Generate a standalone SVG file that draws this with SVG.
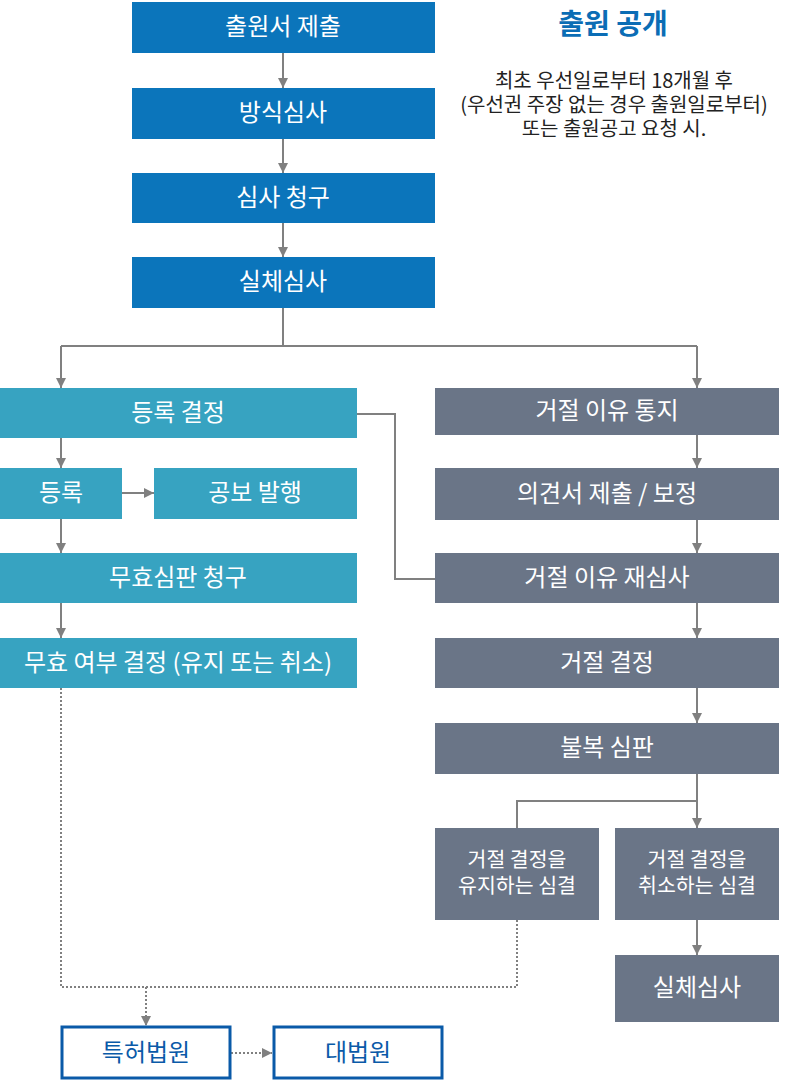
<svg xmlns="http://www.w3.org/2000/svg" width="788" height="1083" viewBox="0 0 788 1083">
<style>
.blue{fill:#0b75bb}
.teal{fill:#37a3c1}
.grey{fill:#6a7587}
.out{fill:#fff;stroke:#0a5aa8;stroke-width:3}
.t{font-family:"Noto Sans CJK KR","Noto Sans",sans-serif;font-size:24px;fill:#fff;text-anchor:middle;dominant-baseline:central}
.t2{font-family:"Noto Sans CJK KR","Noto Sans",sans-serif;font-size:20.5px;fill:#fff;text-anchor:middle}
.tb{font-family:"Noto Sans CJK KR","Noto Sans",sans-serif;font-size:24px;fill:#0a5aa8;text-anchor:middle;dominant-baseline:central}
.c{fill:none;stroke:#808080;stroke-width:2}
.d{fill:none;stroke:#808080;stroke-width:2;stroke-dasharray:2 2}
.note{font-family:"Noto Sans CJK KR","Noto Sans",sans-serif;font-size:20px;fill:#222;text-anchor:middle}
.title{font-family:"Noto Sans CJK KR","Noto Sans",sans-serif;font-size:28px;font-weight:bold;fill:#0b6db5;text-anchor:middle}
</style>
<defs>
<marker id="ah" viewBox="0 0 10 10" refX="10" refY="5" markerWidth="10" markerHeight="10" markerUnits="userSpaceOnUse" orient="auto">
<path d="M0,0 L10,5 L0,10 Z" fill="#808080"/>
</marker>
</defs>
<g id="connectors">
<path class="c" d="M283,53 V88" marker-end="url(#ah)"/>
<path class="c" d="M283,139 V173" marker-end="url(#ah)"/>
<path class="c" d="M283,223 V257" marker-end="url(#ah)"/>
<path class="c" d="M283,308 V346 M61,346 H697"/>
<path class="c" d="M61,346 V388" marker-end="url(#ah)"/>
<path class="c" d="M697,346 V388" marker-end="url(#ah)"/>
<path class="c" d="M61,438 V468" marker-end="url(#ah)"/>
<path class="c" d="M122,493 H154" marker-end="url(#ah)"/>
<path class="c" d="M61,519 V553" marker-end="url(#ah)"/>
<path class="c" d="M61,603 V638" marker-end="url(#ah)"/>
<path class="c" d="M357,414 H395 V579 H435"/>
<path class="c" d="M697,435 V468" marker-end="url(#ah)"/>
<path class="c" d="M697,520 V553" marker-end="url(#ah)"/>
<path class="c" d="M697,603 V638" marker-end="url(#ah)"/>
<path class="c" d="M697,688 V723" marker-end="url(#ah)"/>
<path class="c" d="M697,774 V828" marker-end="url(#ah)"/>
<path class="c" d="M517,828 V801 H697"/>
<path class="c" d="M697,920 V955" marker-end="url(#ah)"/>
<path class="d" d="M61,688 V987 H517 V920"/>
<path class="d" d="M146,987 V1026" marker-end="url(#ah)"/>
<path class="d" d="M231,1053 H272" marker-end="url(#ah)"/>
</g>
<g id="n1"><rect class="blue" x="132" y="2" width="303" height="51"/><text class="t" x="283" y="24">출원서 제출</text></g>
<g id="n2"><rect class="blue" x="132" y="88" width="303" height="51"/><text class="t" x="283" y="110">방식심사</text></g>
<g id="n3"><rect class="blue" x="132" y="173" width="303" height="50"/><text class="t" x="283" y="195">심사 청구</text></g>
<g id="n4"><rect class="blue" x="132" y="257" width="303" height="51"/><text class="t" x="283" y="279">실체심사</text></g>
<g id="pub">
<text class="title" x="613" y="34">출원 공개</text>
<text class="note" x="614" y="88">최초 우선일로부터 18개월 후</text>
<text class="note" x="614" y="112">(우선권 주장 없는 경우 출원일로부터)</text>
<text class="note" x="614" y="136">또는 출원공고 요청 시.</text>
</g>
<g id="n5"><rect class="teal" x="0" y="388" width="357" height="50"/><text class="t" x="178" y="410">등록 결정</text></g>
<g id="n6"><rect class="teal" x="0" y="468" width="122" height="51"/><text class="t" x="61" y="490">등록</text></g>
<g id="n7"><rect class="teal" x="154" y="468" width="203" height="51"/><text class="t" x="255" y="490">공보 발행</text></g>
<g id="n8"><rect class="teal" x="0" y="553" width="357" height="50"/><text class="t" x="178" y="575">무효심판 청구</text></g>
<g id="n9"><rect class="teal" x="0" y="638" width="357" height="50"/><text class="t" x="178" y="660">무효 여부 결정 (유지 또는 취소)</text></g>
<g id="n10"><rect class="grey" x="435" y="388" width="344" height="47"/><text class="t" x="607" y="408">거절 이유 통지</text></g>
<g id="n11"><rect class="grey" x="435" y="468" width="344" height="52"/><text class="t" x="607" y="491">의견서 제출 / 보정</text></g>
<g id="n12"><rect class="grey" x="435" y="553" width="344" height="50"/><text class="t" x="607" y="575">거절 이유 재심사</text></g>
<g id="n13"><rect class="grey" x="435" y="638" width="344" height="50"/><text class="t" x="607" y="660">거절 결정</text></g>
<g id="n14"><rect class="grey" x="435" y="723" width="344" height="51"/><text class="t" x="607" y="745">불복 심판</text></g>
<g id="n15"><rect class="grey" x="435" y="828" width="164" height="92"/><text class="t2" x="517" y="867">거절 결정을</text><text class="t2" x="517" y="893">유지하는 심결</text></g>
<g id="n16"><rect class="grey" x="615" y="828" width="164" height="92"/><text class="t2" x="697" y="867">거절 결정을</text><text class="t2" x="697" y="893">취소하는 심결</text></g>
<g id="n17"><rect class="grey" x="615" y="955" width="164" height="67"/><text class="t" x="697" y="985">실체심사</text></g>
<g id="n18"><rect class="out" x="62" y="1027" width="168" height="51"/><text class="tb" x="146" y="1050">특허법원</text></g>
<g id="n19"><rect class="out" x="274" y="1027" width="168" height="51"/><text class="tb" x="358" y="1050">대법원</text></g>
</svg>
